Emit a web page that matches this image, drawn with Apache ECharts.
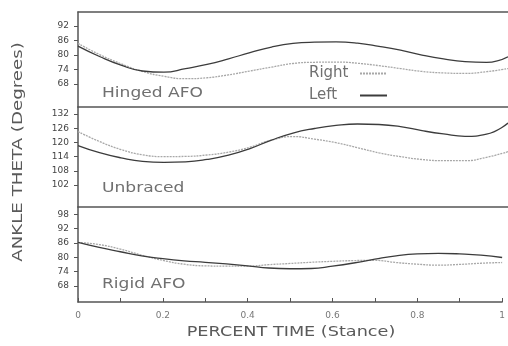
<!DOCTYPE html>
<html>
<head>
<meta charset="utf-8">
<script src="https://cdn.jsdelivr.net/npm/echarts@6/dist/echarts.min.js"></script>
<style>html,body{margin:0;padding:0;background:#fff}#c{width:508px;height:346px}</style>
</head>
<body>
<div id="c"></div>
<script>
// ---- data ----
const stance = [0, 0.05, 0.1, 0.15, 0.2, 0.25, 0.3, 0.35, 0.4, 0.45, 0.5, 0.55, 0.6, 0.65, 0.7, 0.75, 0.8, 0.85, 0.9, 0.95, 1.0];
const hingedLeft  = [83.7, 79.4, 75.8, 73.4, 72.9, 74.4, 76.1, 78.4, 81.0, 83.3, 84.8, 85.3, 85.4, 84.9, 83.6, 82.0, 80.0, 78.4, 77.3, 77.0, 79.3];
const hingedRight = [84.8, 80.2, 76.4, 73.2, 71.2, 70.2, 70.6, 71.8, 73.4, 75.0, 76.5, 77.0, 77.1, 76.6, 75.6, 74.4, 73.2, 72.6, 72.4, 73.1, 74.4];
const unbracedLeft  = [118.7, 115.7, 113.5, 112.0, 111.6, 111.8, 112.8, 114.6, 117.4, 121.0, 124.0, 125.9, 127.2, 127.8, 127.6, 126.7, 125.0, 123.6, 122.6, 123.5, 128.2];
const unbracedRight = [124.6, 120.4, 117.0, 114.8, 114.0, 114.1, 114.7, 115.9, 118.0, 121.0, 122.5, 121.4, 119.9, 117.8, 115.6, 114.0, 112.8, 112.3, 112.3, 113.7, 116.1];
const rigidLeft  = [86.2, 84.1, 82.3, 80.6, 79.4, 78.5, 77.9, 77.2, 76.4, 75.5, 75.2, 75.3, 76.3, 77.6, 79.2, 80.6, 81.4, 81.6, 81.4, 80.9, 79.9];
const rigidRight = [86.2, 85.3, 83.4, 80.9, 78.7, 77.1, 76.4, 76.3, 76.3, 76.9, 77.4, 77.9, 78.3, 78.6, 78.7, 77.8, 77.1, 76.7, 77.0, 77.5, 77.8];

const panelNames = ['Hinged AFO', 'Unbraced', 'Rigid AFO'];
const yTicksHinged = [68, 74, 80, 86, 92];
const yTicksUnbraced = [102, 108, 114, 120, 126, 132];
const yTicksRigid = [68, 74, 80, 86, 92, 98];
const xTickValues = [0, 0.1, 0.2, 0.3, 0.4, 0.5, 0.6, 0.7, 0.8, 0.9, 1];
const xLabelValues = [0, 0.2, 0.4, 0.6, 0.8, 1];
const xTitle = 'PERCENT TIME (Stance)';
const yTitle = 'ANKLE THETA (Degrees)';

// ---- chart ----
const FONT = 'DejaVu Sans';
const AXC = '#555';
const pairs = (vals) => stance.map((t, i) => [t, vals[i]]);

const grids = [
  {left: 78, top: 12, width: 430, height: 95},
  {left: 78, top: 107, width: 430, height: 100},
  {left: 78, top: 207, width: 430, height: 95}
];
const yRanges = [[58.5, 97.8], [92.7, 135], [61.3, 101]];
const yTicks = [yTicksHinged, yTicksUnbraced, yTicksRigid];

const xAxes = [0, 1, 2].map(i => ({
  type: 'value', gridIndex: i, min: 0, max: 1, position: 'bottom',
  axisLine: {show: true, lineStyle: {color: AXC, width: 1.5}},
  axisTick: i === 2 ? {show: true, inside: true, length: 4, customValues: xTickValues, lineStyle: {color: AXC}} : {show: false},
  axisLabel: i === 2 ? {show: true, customValues: xLabelValues, margin: 9, fontSize: 9, color: '#777', fontFamily: FONT,
      formatter: v => String(Math.round(v * 10) / 10)} : {show: false},
  splitLine: {show: false}
}));
xAxes.push({
  type: 'value', gridIndex: 0, min: 0, max: 1, position: 'top',
  axisLine: {show: true, lineStyle: {color: AXC, width: 1.5}},
  axisTick: {show: false}, axisLabel: {show: false}, splitLine: {show: false}
});

const yAxes = [0, 1, 2].map(i => ({
  type: 'value', gridIndex: i, min: yRanges[i][0], max: yRanges[i][1],
  axisLine: {show: true, lineStyle: {color: AXC, width: 1.5}},
  axisTick: {show: true, length: 4, customValues: yTicks[i], lineStyle: {color: AXC}},
  axisLabel: {show: true, customValues: yTicks[i], margin: 9, fontSize: 9, color: '#444', fontFamily: FONT},
  splitLine: {show: false}
}));

const leftStyle = {color: '#3c3c3c', width: 1.3, type: 'solid'};
const rightStyle = {color: '#a8a8a8', width: 1.3, type: [2, 1]};
const panelData = [[hingedRight, hingedLeft], [unbracedRight, unbracedLeft], [rigidRight, rigidLeft]];
const series = [];
panelData.forEach((pd, i) => {
  series.push({name: 'Right', type: 'line', xAxisIndex: i, yAxisIndex: i, data: pairs(pd[0]), smooth: true,
    symbol: 'none', lineStyle: rightStyle, itemStyle: {color: rightStyle.color}, silent: true, z: 2});
  series.push({name: 'Left', type: 'line', xAxisIndex: i, yAxisIndex: i, data: pairs(pd[1]), smooth: true,
    symbol: 'none', lineStyle: leftStyle, itemStyle: {color: leftStyle.color}, silent: true, z: 3});
});

const labelY = [93, 188, 284];
const graphics = panelNames.map((name, i) => ({
  type: 'text', x: 102, y: labelY[i], scaleX: 1.22,
  style: {text: name, fontSize: 14, fontFamily: FONT, fill: '#707070', align: 'left', verticalAlign: 'middle'}
}));
graphics.push({
  type: 'text', x: 18, y: 152, rotation: Math.PI / 2, scaleX: 1.3,
  style: {text: yTitle, fontSize: 14, fontFamily: FONT, fill: '#5a5a5a', align: 'center', verticalAlign: 'middle'}
});
graphics.push({
  type: 'text', x: 291, y: 332, scaleX: 1.26,
  style: {text: xTitle, fontSize: 14, fontFamily: FONT, fill: '#5a5a5a', align: 'center', verticalAlign: 'middle'}
});

const chart = echarts.init(document.getElementById('c'), null, {renderer: 'canvas'});
chart.setOption({
  animation: false,
  backgroundColor: '#fff',
  grid: grids,
  xAxis: xAxes,
  yAxis: yAxes,
  legend: {
    data: ['Right', 'Left'], orient: 'vertical', left: 304, top: 61, align: 'right',
    itemWidth: 27, itemHeight: 2, itemGap: 7, selectedMode: false,
    itemStyle: {opacity: 0},
    formatter: n => '{a|' + n + '}',
    textStyle: {rich: {a: {width: 46, align: 'left', fontSize: 15, lineHeight: 14, color: '#707070', fontFamily: FONT}}}
  },
  series: series,
  graphic: graphics
});
</script>
</body>
</html>
